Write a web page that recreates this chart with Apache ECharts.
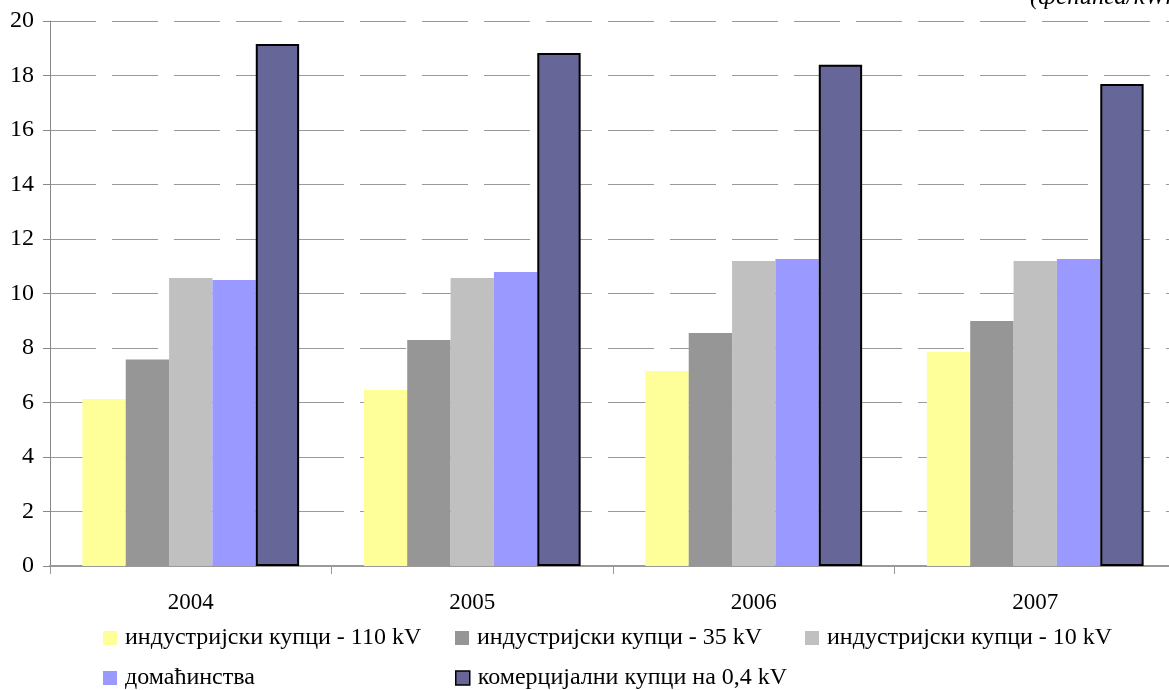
<!DOCTYPE html>
<html>
<head>
<meta charset="utf-8">
<script src="https://cdn.jsdelivr.net/npm/echarts@6/dist/echarts.min.js"></script>
<style>html,body{margin:0;padding:0;background:#fff;overflow:hidden;}#c{width:1185px;height:690px;}</style>
</head>
<body>
<div id="c"></div>
<script>
var years = ['2004', '2005', '2006', '2007'];
var seriesNames = ['индустријски купци - 110 kV', 'индустријски купци - 35 kV', 'индустријски купци - 10 kV', 'домаћинства', 'комерцијални купци на 0,4 kV'];
var ind110 = [6.13, 6.46, 7.16, 7.85];
var ind35 = [7.58, 8.29, 8.55, 8.99];
var ind10 = [10.57, 10.57, 11.19, 11.19];
var households = [10.50, 10.79, 11.27, 11.27];
var commercial = [19.16, 18.83, 18.39, 17.69];
var unitLabel = '(фенинга/kWh)';

var colors = ['#FFFF99', '#969696', '#C0C0C0', '#9999FF', '#666699'];
var values = [ind110, ind35, ind10, households, commercial];
var font = '"Liberation Serif", "Times New Roman", serif';

var series = values.map(function (v, i) {
  var s = {
    name: seriesNames[i],
    type: 'bar',
    data: v,
    barGap: '0%',
    barCategoryGap: '23%',
    itemStyle: { color: colors[i] },
    emphasis: { disabled: true }
  };
  if (i === 4) { s.itemStyle.borderColor = '#000'; s.itemStyle.borderWidth = 2; }
  return s;
});

var legendPos = [[103, 626], [455, 626], [805, 626], [103, 666], [455, 666]];
var legends = seriesNames.map(function (n, i) {
  return {
    data: [{ name: n, itemStyle: i === 4 ? { borderColor: '#000', borderWidth: 1.5 } : { borderWidth: 0 } }],
    left: legendPos[i][0],
    top: legendPos[i][1],
    padding: 0,
    itemWidth: 14,
    itemHeight: 14,
    itemGap: 0,
    selectedMode: false,
    icon: 'rect',
    textStyle: { fontFamily: font, fontSize: 24, color: '#000', padding: [0, 0, 0, 3] }
  };
});

var chart = echarts.init(document.getElementById('c'), null, { renderer: 'canvas' });
chart.setOption({
  animation: false,
  color: colors,
  grid: { left: 50, top: 21, width: 1126, height: 545, containLabel: false },
  legend: legends,
  xAxis: {
    type: 'category',
    data: years,
    axisLine: { lineStyle: { color: '#999', width: 2 } },
    axisTick: { show: true, length: 8, lineStyle: { color: '#999' } },
    axisLabel: { fontFamily: font, fontSize: 23, color: '#000', margin: 25 },
    splitLine: { show: false }
  },
  yAxis: {
    type: 'value',
    min: 0,
    max: 20,
    interval: 2,
    axisLine: { show: true, lineStyle: { color: '#888' } },
    axisTick: { show: true, length: 7, lineStyle: { color: '#888' } },
    axisLabel: { fontFamily: font, fontSize: 24, color: '#000', margin: 16 },
    splitLine: { show: true, lineStyle: { color: '#999', width: 1, type: [46, 16] } }
  },
  graphic: [{
    type: 'text',
    left: 1030,
    top: -15,
    style: { text: unitLabel, font: 'italic 25px ' + font, fill: '#000' }
  }],
  series: series
});
</script>
</body>
</html>
